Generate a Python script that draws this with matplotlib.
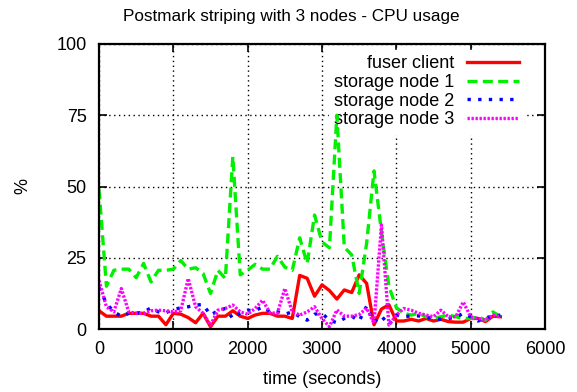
"""Postmark striping with 3 nodes - CPU usage (gnuplot style)."""

import numpy as np
import matplotlib
matplotlib.use("Agg")
import matplotlib.pyplot as plt

plt.rcParams["font.family"] = ["Liberation Sans", "DejaVu Sans"]

# sample times (seconds)
times = list(range(0, 5500, 100))

fuser_client = [6.4, 4.5, 4.5, 4.5, 5.5, 5.5, 5.5, 4.5, 4.5, 1.5,
                5.5, 5.2, 4.0, 2.2, 5.5, 0.8, 4.5, 4.5, 6.4, 4.5,
                3.7, 4.9, 5.5, 5.5, 4.5, 4.5, 3.7, 18.8, 17.8, 11.5,
                15.5, 13.5, 10.5, 13.7, 12.8, 19.0, 16.0, 1.5, 7.0, 8.5,
                2.8, 2.8, 3.4, 2.8, 3.7, 2.8, 3.4, 2.6, 2.4, 2.4,
                3.7, 3.7, 2.6, 4.5, 4.3]

storage_node1 = [49.0, 15.0, 20.6, 21.0, 21.0, 18.0, 23.0, 16.5, 20.6, 20.6,
                 21.0, 24.0, 21.0, 21.5, 19.5, 12.5, 20.6, 17.7, 60.5, 19.0,
                 20.6, 22.7, 21.0, 21.0, 25.5, 21.7, 20.6, 32.0, 23.0, 40.0,
                 30.5, 28.5, 75.0, 28.7, 26.0, 12.5, 30.0, 55.5, 34.0, 15.0,
                 7.5, 5.5, 4.9, 5.5, 4.3, 3.7, 4.3, 4.9, 4.3, 3.7,
                 3.7, 4.3, 3.1, 6.0, 4.3]

storage_node2 = [14.5, 9.0, 6.0, 4.5, 5.5, 5.5, 6.0, 7.4, 6.0, 5.7,
                 6.9, 7.4, 7.8, 8.4, 8.6, 4.9, 6.4, 7.2, 3.7, 5.7,
                 6.6, 6.4, 7.8, 6.0, 6.0, 5.2, 6.0, 4.3, 3.1, 5.2,
                 5.5, 3.1, 2.2, 3.7, 4.5, 2.8, 8.0, 2.5, 4.5, 1.5,
                 4.9, 4.3, 4.6, 4.6, 4.1, 3.7, 3.4, 3.7, 4.1, 5.5,
                 4.3, 2.8, 4.1, 4.3, 4.9]

storage_node3 = [17.0, 7.8, 6.0, 14.2, 6.0, 5.5, 5.5, 6.4, 6.6, 6.4,
                 6.0, 6.4, 17.7, 7.8, 5.5, 1.4, 6.6, 7.2, 8.4, 6.0,
                 5.2, 7.2, 10.1, 5.7, 5.5, 14.2, 6.0, 4.9, 6.0, 7.8,
                 3.7, 0.8, 6.7, 4.5, 4.5, 5.1, 7.3, 2.0, 36.5, 1.4,
                 4.9, 7.2, 6.6, 5.5, 4.9, 4.3, 6.6, 4.3, 4.3, 9.5,
                 4.3, 3.7, 3.1, 4.9, 4.3]

xticks = [0, 1000, 2000, 3000, 4000, 5000, 6000]
yticks = [0, 25, 50, 75, 100]

fig = plt.figure(figsize=(5.77, 3.92), dpi=100)
ax = fig.add_axes([99 / 577, 1 - 329 / 392, 446 / 577, 285 / 392])

lw = 2.4
ax.plot(times, fuser_client, color="#ff0000", lw=lw, label="fuser client")
ax.plot(times, storage_node1, color="#00f000", lw=lw, dashes=(3, 1.6),
        label="storage node 1")
ax.plot(times, storage_node2, color="#0000ff", lw=lw, dashes=(1, 2.2),
        label="storage node 2")
ax.plot(times, storage_node3, color="#ff00ff", lw=lw, dashes=(0.7, 0.5),
        label="storage node 3")

ax.set_xlim(0, 6000)
ax.set_ylim(0, 100)
ax.set_xticks(xticks)
ax.set_yticks(yticks)
ax.grid(True, color="black", linestyle=(0, (1, 2.5)), linewidth=1)
ax.set_axisbelow(True)

for s in ax.spines.values():
    s.set_linewidth(1.6)
ax.tick_params(direction="in", top=True, right=True, length=6, width=1.2,
               labelsize=13, pad=9)

ax.set_xlabel("time (seconds)", fontsize=13, labelpad=9)
ax.set_ylabel("%", fontsize=13, labelpad=18)
# gnuplot centres the title on the whole canvas
fig.text(291 / 577, 1 - 17 / 392, "Postmark striping with 3 nodes - CPU usage",
         fontsize=12.3, ha="center", va="center")

# key box hides the grid but the data lines are drawn over it
leg = ax.legend(loc="upper right", bbox_to_anchor=(0.975, 1.012),
                markerfirst=False, fontsize=13, handlelength=2.9,
                handletextpad=0.7, labelspacing=0.1, borderpad=0.3,
                frameon=True, fancybox=False, framealpha=1,
                edgecolor="white", facecolor="white")
leg.set_zorder(1)

fig.savefig("out.png", dpi=100)
